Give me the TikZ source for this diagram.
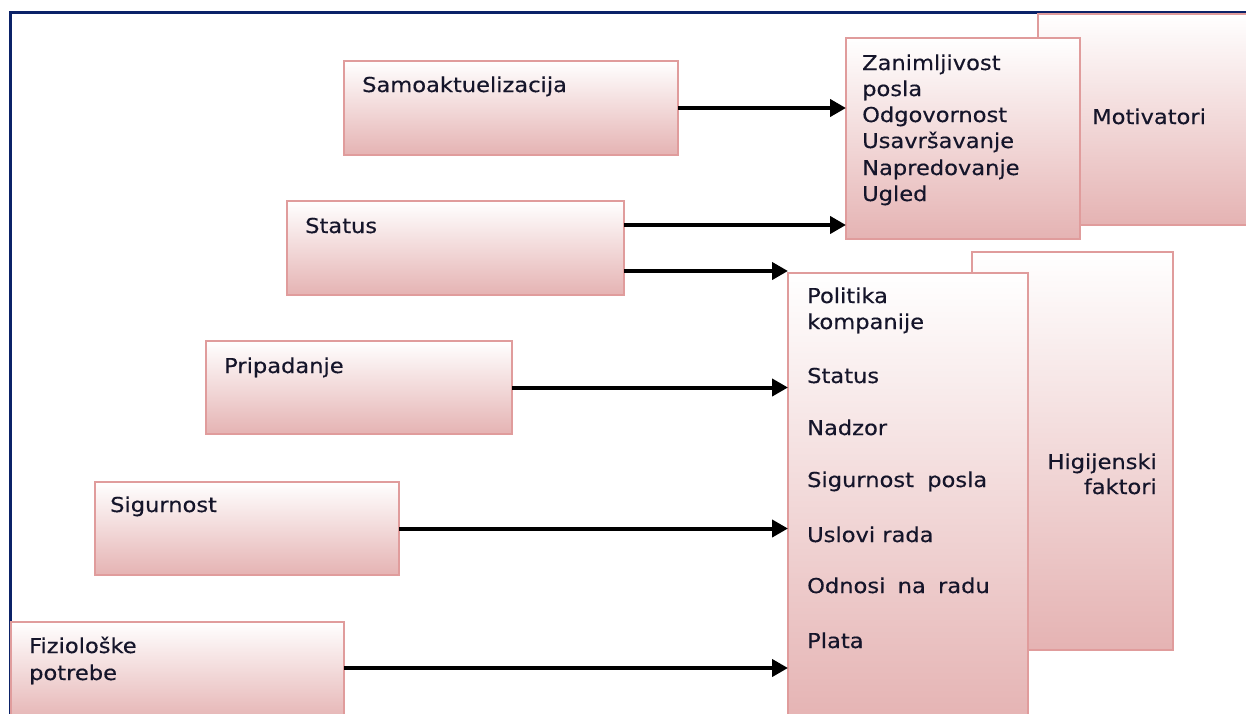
\documentclass[tikz,border=0pt]{standalone}
\usepackage{fontspec}
\setmainfont{DejaVu Sans}[FakeStretch=1.1,FakeBold=0.4]
\usetikzlibrary{arrows.meta,calc}
\definecolor{frame}{HTML}{0B2268}
\definecolor{boxline}{HTML}{E09C9C}
\definecolor{boxbottom}{HTML}{E5B3B3}
\definecolor{txtc}{HTML}{15152A}
\begin{document}
\begin{tikzpicture}[x=1pt,y=-1pt,
  pbox/.style={draw=boxline,line width=2pt,top color=white,bottom color=boxbottom,
    anchor=north west,inner sep=0pt,outer sep=0pt},
  txt/.style={anchor=base west,inner sep=0pt,text=txtc,font=\fontsize{20.5}{26}\selectfont},
  txtr/.style={txt,anchor=base east},
  arr/.style={line width=4pt,-{Triangle[length=16pt,width=17pt]}}]
\useasboundingbox (0,0) rectangle (1246,713);
\clip (0,0) rectangle (1246,713);
\fill[white] (0,0) rectangle (1246,713);
% frame
\draw[frame,line width=3pt] (10,715) -- (10,12) -- (1250,12);
% back boxes
\node[pbox,minimum width=230pt,minimum height=211pt] (motb) at (1038,14) {};
\node[pbox,minimum width=201pt,minimum height=398pt] (hygb) at (972,252) {};
% front boxes
\node[pbox,minimum width=234pt,minimum height=201pt] (mot) at (846,38) {};
\node[pbox,minimum width=240pt,minimum height=450pt] (hyg) at (788,273) {};
% left boxes
\node[pbox,minimum width=334pt,minimum height=94pt] (samo) at (344,61) {};
\node[pbox,minimum width=337pt,minimum height=94pt] (stat) at (287,201) {};
\node[pbox,minimum width=306pt,minimum height=93pt] (prip) at (206,341) {};
\node[pbox,minimum width=304pt,minimum height=93pt] (sig) at (95,482) {};
\node[pbox,minimum width=333pt,minimum height=100pt] (fiz) at (11,622) {};
% texts
\node[txt] (tsamo) at (362,92) {Samoaktuelizacija};
\node[txt] (tstat) at (305,233) {Status};
\node[txt] (tprip) at (224,373) {Pripadanje};
\node[txt] (tsig) at (110,512) {Sigurnost};
\node[txt] (tfiz1) at (29,653) {Fiziološke};
\node[txt] (tfiz2) at (29,680) {potrebe};
\node[txt] (tmotiv) at (1092,124) {Motivatori};
\node[txtr] (thyg1) at (1157,469) {Higijenski};
\node[txtr] (thyg2) at (1157,494) {faktori};
\node[txt] (m1) at (862,70) {Zanimljivost};
\node[txt] (m2) at (862,96) {posla};
\node[txt] (m3) at (862,122) {Odgovornost};
\node[txt] (m4) at (862,148) {Usavršavanje};
\node[txt] (m5) at (862,175) {Napredovanje};
\node[txt] (m6) at (862,201) {Ugled};
\node[txt] (h1) at (807,303) {Politika};
\node[txt] (h2) at (807,329) {kompanije};
\node[txt] (h3) at (807,383) {Status};
\node[txt] (h4) at (807,435) {Nadzor};
\node[txt] (h5) at (807,487) {Sigurnost\hspace{0.3em} posla};
\node[txt] (h6) at (807,542) {Uslovi rada};
\node[txt] (h7) at (807,593) {Odnosi\hspace{0.25em} na\hspace{0.25em} radu};
\node[txt] (h8) at (807,648) {Plata};
% arrows
\coordinate (s1) at ($(stat.east)+(0,-23)$);
\coordinate (s2) at ($(stat.east)+(0,23)$);
\coordinate (f1) at ($(fiz.east)+(0,-4)$);
\draw[arr] (samo.east) -- (samo.east -| mot.west);
\draw[arr] (s1) -- (s1 -| mot.west);
\draw[arr] (s2) -- (s2 -| hyg.west);
\draw[arr] (prip.east) -- (prip.east -| hyg.west);
\draw[arr] (sig.east) -- (sig.east -| hyg.west);
\draw[arr] (f1) -- (f1 -| hyg.west);
\end{tikzpicture}
\end{document}
